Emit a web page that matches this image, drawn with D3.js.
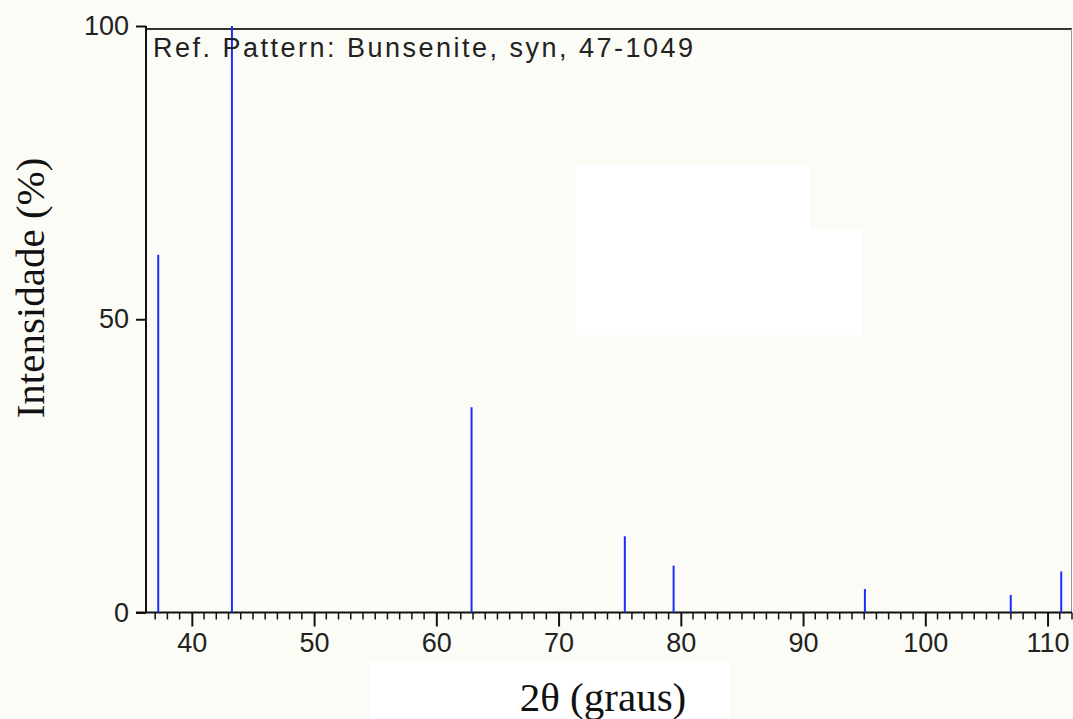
<!DOCTYPE html>
<html>
<head>
<meta charset="utf-8">
<script src="https://cdn.jsdelivr.net/npm/d3@7"></script>
<style>
  body { margin: 0; background: #fdfdf8; }
  svg { display: block; }
</style>
</head>
<body>
<div id="chart"></div>
<script>
// peak positions (2theta) and relative intensities, NiO ref pattern
let peakAngles = [37.25, 43.28, 62.88, 75.42, 79.41, 95.06, 106.99, 111.12];
let peakIntensity = [61, 100, 35, 13, 8, 4, 3, 7];
let xTicks = [40, 50, 60, 70, 80, 90, 100, 110];
let yTicks = [0, 50, 100];

let W = 1073, H = 719;
let margin = { top: 26, right: 1, bottom: 106, left: 146 };

let svg = d3.select("#chart").append("svg")
    .attr("width", W)
    .attr("height", H);

svg.append("rect").attr("width", W).attr("height", H).attr("fill", "#fcfcf7");
// lighter patches in the scanned background
svg.append("rect").attr("x", 575).attr("y", 165).attr("width", 235).attr("height", 170).attr("fill", "#ffffff");
svg.append("rect").attr("x", 810).attr("y", 230).attr("width", 52).attr("height", 105).attr("fill", "#ffffff");
svg.append("rect").attr("x", 370).attr("y", 662).attr("width", 360).attr("height", 57).attr("fill", "#ffffff");

let x = d3.scaleLinear()
    .domain([36.25, 112])
    .range([margin.left, W - margin.right]);

let y = d3.scaleLinear()
    .domain([0, 100])
    .range([H - margin.bottom - 0.5, margin.top]);

let tickFont = "'Liberation Sans', Arial, sans-serif";

// frame: top and right
svg.append("line")
    .attr("x1", margin.left).attr("x2", W - margin.right)
    .attr("y1", 29).attr("y2", 29)
    .attr("stroke", "#333").attr("stroke-width", 2);
svg.append("line")
    .attr("x1", W - 1.5).attr("x2", W - 1.5)
    .attr("y1", 29).attr("y2", y(0))
    .attr("stroke", "#999").attr("stroke-width", 1);

// minor x ticks
let minor = d3.range(37, 113, 1).filter(d => d % 10 !== 0);
svg.append("g").selectAll("line")
    .data(minor)
    .enter().append("line")
    .attr("x1", d => x(d)).attr("x2", d => x(d))
    .attr("y1", y(0)).attr("y2", y(0) + 7)
    .attr("stroke", "#111").attr("stroke-width", 1.5);

// x axis
let xAxis = svg.append("g")
    .attr("transform", "translate(0," + y(0) + ")")
    .call(d3.axisBottom(x).tickValues(xTicks).tickSize(14).tickSizeOuter(0).tickPadding(6));
xAxis.select(".domain").attr("stroke", "#111").attr("stroke-width", 2)
    .attr("d", "M" + (margin.left - 10) + ",0H" + (W - margin.right));
xAxis.selectAll(".tick line").attr("stroke", "#111").attr("stroke-width", 2);
xAxis.selectAll("text")
    .attr("font-family", tickFont).attr("font-size", "27px").attr("fill", "#222");

// y axis
let yAxis = svg.append("g")
    .attr("transform", "translate(" + margin.left + ",0)")
    .call(d3.axisLeft(y).tickValues(yTicks).tickSize(10).tickSizeOuter(0).tickPadding(7));
yAxis.select(".domain").attr("stroke", "#111").attr("stroke-width", 2)
    .attr("d", "M0," + y(100) + "V" + y(0));
yAxis.selectAll(".tick line").attr("stroke", "#111").attr("stroke-width", 2);
yAxis.selectAll("text")
    .attr("font-family", tickFont).attr("font-size", "27px").attr("fill", "#222");

// peaks
svg.append("g").selectAll("line")
    .data(peakAngles)
    .enter().append("line")
    .attr("x1", d => x(d)).attr("x2", d => x(d))
    .attr("y1", y(0))
    .attr("y2", (d, i) => y(peakIntensity[i]))
    .attr("stroke", "#1f2cff").attr("stroke-width", 2);

// pattern label
svg.append("text")
    .text("Ref. Pattern: Bunsenite, syn, 47-1049")
    .attr("x", 153).attr("y", 57)
    .attr("textLength", 540).attr("lengthAdjust", "spacing")
    .attr("font-family", tickFont).attr("font-size", "27px")
    .attr("fill", "#222");

// axis titles
svg.append("text")
    .text("2\u03b8 (graus)")
    .attr("x", 603).attr("y", 711)
    .attr("text-anchor", "middle")
    .attr("font-family", "'Liberation Serif', 'Times New Roman', serif")
    .attr("font-size", "41px").attr("fill", "#111");

svg.append("text")
    .text("Intensidade (%)")
    .attr("transform", "translate(44,288) rotate(-90)")
    .attr("text-anchor", "middle")
    .attr("font-family", "'Liberation Serif', 'Times New Roman', serif")
    .attr("font-size", "41px").attr("fill", "#111");
</script>
</body>
</html>
